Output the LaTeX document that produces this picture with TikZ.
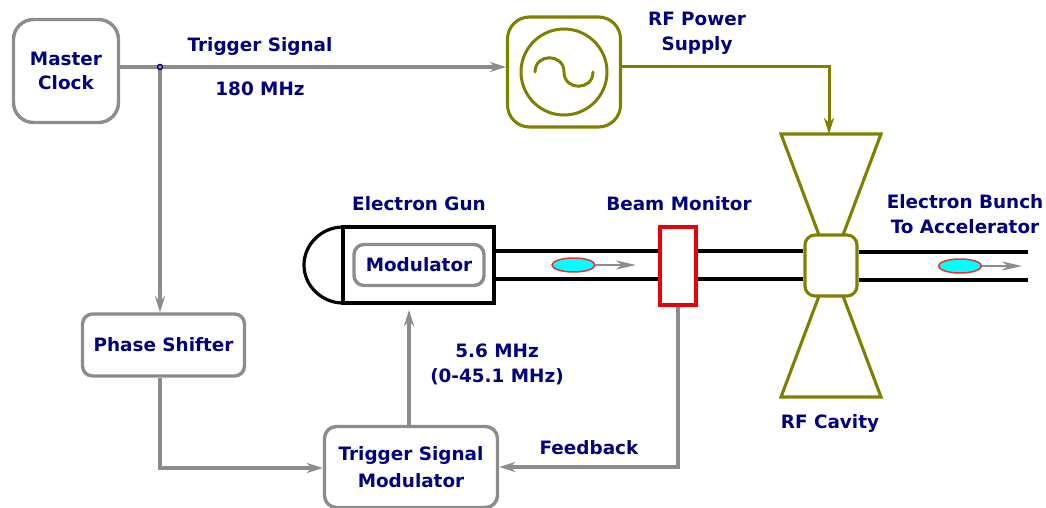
\documentclass[tikz,border=0pt]{standalone}
\usepackage{fontspec}
\setmainfont{DejaVu Sans}
\usetikzlibrary{arrows.meta,shapes.geometric}
\definecolor{lbl}{HTML}{000080}
\definecolor{grayline}{HTML}{8C8C8C}
\definecolor{oliveline}{HTML}{808000}
\definecolor{redline}{HTML}{E8000B}
\definecolor{bunchfill}{HTML}{00FFFF}
\definecolor{bunchedge}{HTML}{F03030}
\tikzset{
  x=1pt,y=-1pt,
  lab/.style={text=lbl,font=\fontsize{18.4}{25}\selectfont\bfseries,align=center,inner sep=0pt},
  graybox/.style={draw=grayline,line width=3.4pt,rounded corners=#1,inner sep=0pt,text=lbl,font=\fontsize{18.4}{27.5}\selectfont\bfseries,align=center},
  olivebox/.style={draw=oliveline,line width=3.1pt,rounded corners=#1,inner sep=0pt},
  garrow/.style={draw=grayline,line width=3.1pt,-{Stealth[length=16pt,width=10pt,inset=5pt]}},
  oarrow/.style={draw=oliveline,line width=3pt,-{Stealth[length=16pt,width=10pt,inset=5pt]}},
  sarrow/.style={draw=grayline,line width=2.6pt,-{Stealth[length=20pt,width=9pt,inset=6pt]}},
  pipe/.style={draw=black,line width=3.2pt},
  bunch/.style={draw=bunchedge,fill=bunchfill,line width=1.5pt,ellipse,minimum width=43pt,minimum height=14pt,inner sep=0pt},
}
\begin{document}
\begin{tikzpicture}
\path[use as bounding box] (0,0) rectangle (1046,508);
% boxes
\node[graybox=20pt,minimum width=105pt,minimum height=103pt] (mc) at (66,71) {Master\\[-4pt]Clock};
\node[olivebox=22pt,minimum width=113pt,minimum height=110pt] (rf) at (564,72) {};
\node[draw=oliveline,line width=3pt,circle,minimum size=86pt,inner sep=0pt] (osc) at (564,72) {};
\draw[draw=oliveline,line width=3pt,line cap=round] (535,72) .. controls (535,53) and (564,53) .. (564,72) .. controls (564,91) and (593,91) .. (593,72);
\node[graybox=10pt,minimum width=162pt,minimum height=62pt] (ps) at (163.5,345) {Phase Shifter};
\node[graybox=12pt,minimum width=173pt,minimum height=81pt] (tsm) at (411,467) {Trigger Signal\\Modulator};
% gun
\draw[pipe] (343,227) .. controls (322,227) and (304,244) .. (304,265) .. controls (304,286) and (322,303) .. (343,303);
\node[draw=black,line width=3.2pt,minimum width=151pt,minimum height=76pt,inner sep=0pt] (gun) at (418.5,265) {};
\node[graybox=10pt,minimum width=130pt,minimum height=41pt] (mod) at (419,265) {Modulator};
% beam monitor and cavity
\node[draw=redline,fill=white,line width=3.4pt,minimum width=36pt,minimum height=78pt,inner sep=0pt] (bm) at (678,266) {};
\node[olivebox=10pt,minimum width=52pt,minimum height=61pt] (cb) at (831,265.5) {};
\coordinate (e1) at (1028,252);
\coordinate (e2) at (1028,280);
\coordinate (g1) at (494,251);
\coordinate (g2) at (494,279);
\draw[pipe] (g1) -- (bm.west |- g1);
\draw[pipe] (g2) -- (bm.west |- g2);
\draw[pipe] (bm.east |- g1) -- (cb.west |- g1);
\draw[pipe] (bm.east |- g2) -- (cb.west |- g2);
\draw[pipe] (cb.east |- e1) -- (e1);
\draw[pipe] (cb.east |- e2) -- (e2);
% cavity horns
\coordinate (t1) at (819,235); \coordinate (t2) at (843,235);
\coordinate (t3) at (881,134); \coordinate (t4) at (781,134);
\coordinate (b1) at (819,296); \coordinate (b2) at (843,296);
\coordinate (b3) at (881,397); \coordinate (b4) at (781,397);
\draw[draw=oliveline,line width=3.1pt,line join=miter] (t1) -- (t4) -- (t3) -- (t2);
\draw[draw=oliveline,line width=3.1pt,line join=miter] (b1) -- (b4) -- (b3) -- (b2);
% bunches
\node[bunch] (b5) at (573.5,265) {};
\coordinate (a5) at (636,265);
\draw[sarrow] (b5.east) -- (a5);
\node[bunch] (b6) at (960,266) {};
\coordinate (a6) at (1022,266);
\draw[sarrow] (b6.east) -- (a6);
% connectors
\coordinate (j) at (160,67);
\draw[grayline,line width=3.1pt] (mc.east |- j) -- (j);
\draw[garrow] (j) -- (rf.west |- j);
\draw[garrow] (j) -- (j |- ps.north);
\draw[draw=lbl,line width=1.3pt,fill=grayline] (j) circle (2.6);
\draw[garrow] (ps.south -| j) -- (160,468) -- (tsm.west |- 0,468);
\coordinate (gi) at (409,310);
\draw[garrow] (tsm.north -| gi) -- (gi);
\draw[garrow] (bm.south) -- (bm.south |- 0,467) -- (tsm.east |- 0,467);
\coordinate (cv) at (829,134);
\draw[oarrow] (rf.east |- j) -- (829,67) -- (cv);
% labels
\node[lab] (l1) at (260,46) {Trigger Signal};
\node[lab] (l2) at (260,89) {180 MHz};
\node[lab] (l3) at (697,33.5) {RF Power\\Supply};
\node[lab] (l4) at (419,204) {Electron Gun};
\node[lab] (l5) at (679,204) {Beam Monitor};
\node[lab] (l6) at (965,214.5) {Electron Bunch\\To Accelerator};
\node[lab] (l7) at (497,364) {5.6 MHz\\(0-45.1 MHz)};
\node[lab] (l8) at (589,447.5) {Feedback};
\node[lab] (l9) at (830,423) {RF Cavity};
\end{tikzpicture}
\end{document}
